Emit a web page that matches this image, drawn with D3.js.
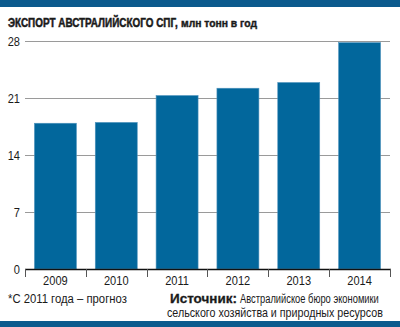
<!DOCTYPE html>
<html>
<head>
<meta charset="utf-8">
<script src="https://cdn.jsdelivr.net/npm/d3@7"></script>
<style>
  html, body { margin: 0; padding: 0; background: #fff; }
  svg { display: block; }
  text { font-family: "Liberation Sans", Arial, Helvetica, sans-serif; fill: #1a1a1a; }
</style>
</head>
<body>
<script>
// Australian LNG exports, million tonnes per year
const years = ["2009", "2010", "2011", "2012", "2013", "2014"];
const exportsMt = [17.9, 18.0, 21.3, 22.2, 22.9, 27.8];
const yTicks = [0, 7, 14, 21, 28];

const W = 400, H = 327;
const svg = d3.select("body").append("svg").attr("width", W).attr("height", H);

const barColor = "#02679c";
const bandColor = "#0b5a8d";
const NARROW = 0.82; // horizontal squeeze giving a narrow face

// Place a text at (x, y) and squeeze it horizontally; if width is given,
// the squeeze is chosen so the text spans exactly that width.
function label(str, x, y, opts = {}) {
  const g = svg.append("g");
  const t = g.append("text")
    .attr("font-size", opts.size || 13)
    .attr("font-weight", opts.bold ? "bold" : null)
    .attr("text-anchor", opts.anchor || "start")
    .text(str);
  if (opts.heavy) t.attr("stroke", "#1a1a1a").attr("stroke-width", opts.heavy);
  let s = NARROW;
  if (opts.width) s = opts.width / t.node().getComputedTextLength();
  g.attr("transform", `translate(${x},${y}) scale(${s},1)`);
  return g;
}

// Top and bottom brand bands
svg.append("rect").attr("x", 0).attr("y", 0).attr("width", W).attr("height", 7).attr("fill", bandColor);
svg.append("rect").attr("x", 0).attr("y", 321).attr("width", W).attr("height", 6).attr("fill", bandColor);

// Title
label("ЭКСПОРТ АВСТРАЛИЙСКОГО СПГ,", 8, 27, { size: 12.5, bold: true, width: 170, heavy: 0.5 });
label("млн тонн в год", 181, 27, { size: 10.5, bold: true, width: 76, heavy: 0.4 });

// Scales
const x = d3.scaleBand().domain(years).range([25, 390]).paddingInner(0.31).paddingOuter(0.155);
const y = d3.scaleLinear().domain([0, 28]).range([269, 41]);

// Gridlines
svg.append("g").selectAll("line").data(yTicks.filter(d => d > 0)).join("line")
  .attr("x1", 25).attr("x2", 390)
  .attr("y1", d => Math.round(y(d)) + 0.5).attr("y2", d => Math.round(y(d)) + 0.5)
  .attr("stroke", "#9a9a9a").attr("stroke-width", 1);

// Y tick labels
yTicks.forEach(d => label(String(d), 20, y(d) + 5, { size: 13.5, anchor: "end" }));

// Bars
svg.append("g").selectAll("rect").data(years).join("rect")
  .attr("x", d => x(d)).attr("width", x.bandwidth())
  .attr("y", (d, i) => y(exportsMt[i]))
  .attr("height", (d, i) => y(0) - y(exportsMt[i]))
  .attr("fill", barColor)
  .attr("stroke", "#4f93bd").attr("stroke-width", 0.6);

// X axis baseline with separators between categories
const xAxis = svg.append("g");
xAxis.append("line").attr("x1", 25).attr("x2", 391).attr("y1", 269.5).attr("y2", 269.5)
  .attr("stroke", "#111").attr("stroke-width", 1.5);
const sepPositions = years.map(d => x(d) - x.step() * x.paddingInner() / 2);
sepPositions.push(390);
sepPositions[0] = 25;
xAxis.selectAll("line.sep").data(sepPositions).join("line").attr("class", "sep")
  .attr("x1", d => Math.round(d) + 0.5).attr("x2", d => Math.round(d) + 0.5)
  .attr("y1", 269).attr("y2", 277)
  .attr("stroke", "#555").attr("stroke-width", 1);
years.forEach(d => label(d, x(d) + x.bandwidth() / 2, 285, { size: 13.5, anchor: "middle" }));

// Footnote and source
label("*С 2011 года – прогноз", 8, 302.5, { size: 13.5, width: 119 });
label("Источник:", 170, 302.5, { size: 13.5, bold: true, width: 67, heavy: 0.3 });
label("Австралийское бюро экономики", 240, 302.5, { size: 13.5, width: 139 });
label("сельского хозяйства и природных ресурсов", 167, 317, { size: 13.5, width: 216 });
</script>
</body>
</html>
